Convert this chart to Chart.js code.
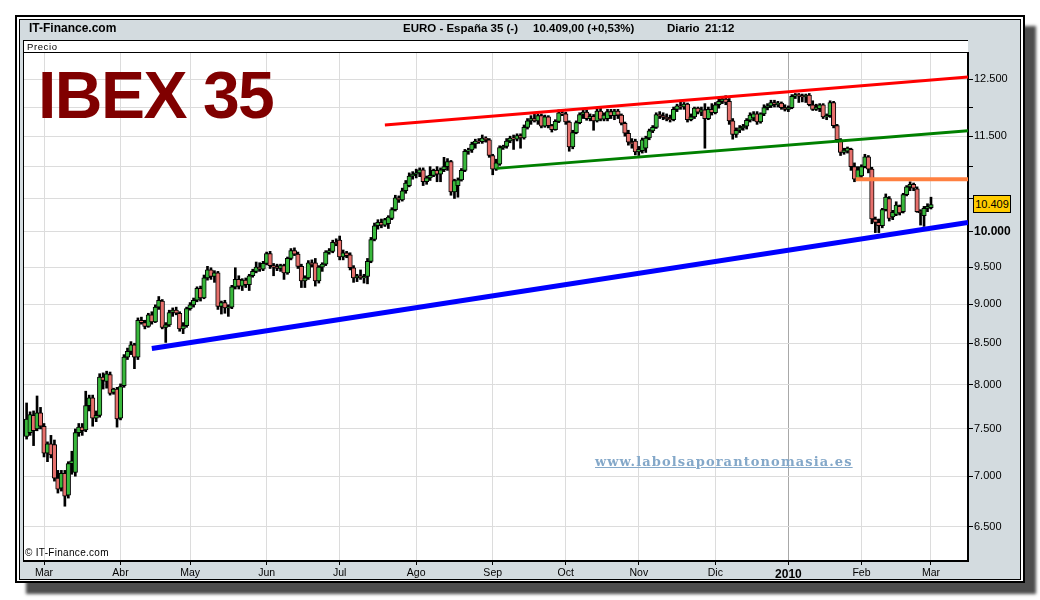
<!DOCTYPE html>
<html lang="es">
<head>
<meta charset="utf-8">
<title>IBEX 35</title>
<script src="https://cdn.jsdelivr.net/npm/chart.js@4.4.1/dist/chart.umd.min.js"></script>
<style>
  body { margin: 0; background: #fff; font-family: "Liberation Sans", Arial, sans-serif; }
  #wrap { position: relative; width: 1040px; height: 600px; overflow: hidden; }
  #outer { position: absolute; left: 15px; top: 15px; width: 1006px; height: 564px; border: 2px solid #000; background: #fff; box-shadow: 11px 11px 3px #4e4e4e; }
  #panel { position: absolute; left: 19px; top: 19px; width: 1000px; height: 559px; border: 1px solid #000; background: #d3dbdf; }
  #plotbox { position: absolute; left: 23px; top: 40px; width: 944px; height: 519px; border: 1px solid #000; border-right: 0; border-bottom: 0; background: #fff; }
  #strip { position: absolute; left: 23px; top: 52px; width: 946px; height: 1px; background: #000; }
  canvas { position: absolute; left: 0; top: 0; }
  .txt { position: absolute; white-space: pre; color: #000; }
  .hdr { font-weight: bold; font-size: 11.5px; top: 21px; line-height: 14px; }
  #price { position: absolute; left: 973px; width: 36px; height: 16px; line-height: 16px; background: #ffcc00; border: 1px solid #000; font-size: 11px; text-align: center; }
</style>
</head>
<body>
<div id="wrap">
  <div id="outer"></div>
  <div id="panel"></div>
  <div id="plotbox"></div>
  <div id="strip"></div>
  <canvas id="chart" width="1040" height="600"></canvas>

  <div class="txt" style="left:29px;top:21px;font-size:12px;font-weight:bold;line-height:14px;">IT-Finance.com</div>
  <div class="txt hdr" style="left:403px;">EURO - España 35 (-)</div>
  <div class="txt hdr" style="left:533px;">10.409,00 (+0,53%)</div>
  <div class="txt hdr" style="left:667px;">Diario</div>
  <div class="txt hdr" style="left:705px;">21:12</div>
  <div class="txt" style="left:27px;top:41px;font-size:9.5px;line-height:11px;letter-spacing:0.6px;">Precio</div>
  <div class="txt" style="left:38px;top:62px;font-size:66px;line-height:66px;font-weight:bold;color:#800000;letter-spacing:-1.5px;">IBEX 35</div>
  <div class="txt" style="left:595px;top:454px;font-family:'DejaVu Serif','Liberation Serif',serif;font-size:13px;line-height:16px;font-weight:bold;letter-spacing:1.1px;color:#84a8c9;text-decoration:underline;">www.labolsaporantonomasia.es</div>
  <div class="txt" style="left:25px;top:547px;font-size:10px;line-height:12px;letter-spacing:0.3px;">© IT-Finance.com</div>
  <div id="price"></div>
</div>

<script>
// trading days from late Feb 2009 to 1 Mar 2010 (index = trading day)
const opens = [
  7420, 7460, 7650, 7500, 7680, 7530, 7240, 7340, 7330, 6980,
  6880, 7030, 6810, 7130, 7040, 7460, 7520, 7490, 7760, 7850,
  7620, 7650, 8090, 8040, 8120, 7910, 7950, 7620, 7990, 8330,
  8400, 8480, 8330, 8790, 8760, 8710, 8860, 8770, 8960, 9040,
  8700, 8730, 8890, 8920, 8880, 8680, 8720, 8940, 8990, 9050,
  9210, 9080, 9350, 9460, 9370, 9420, 8970, 9020, 8950, 8960,
  9230, 9330, 9240, 9320, 9260, 9380, 9440, 9500, 9470, 9550,
  9690, 9520, 9500, 9480, 9520, 9420, 9620, 9730, 9680, 9510,
  9310, 9350, 9560, 9560, 9310, 9500, 9540, 9710, 9720, 9850,
  9880, 9640, 9700, 9670, 9490, 9350, 9380, 9350, 9370, 9580,
  9890, 10090, 10140, 10100, 10120, 10200, 10330, 10510, 10480, 10620,
  10700, 10850, 10880, 10900, 10950, 10760, 10820, 10860, 10940, 10880,
  10950, 11000, 11080, 10600, 10700, 10790, 10940, 11250, 11270, 11370,
  11420, 11410, 11470, 11440, 11180, 10960, 11040, 11310, 11330, 11420,
  11470, 11450, 11510, 11470, 11650, 11760, 11800, 11760, 11850, 11670,
  11830, 11680, 11610, 11750, 11900, 11880, 11740, 11320, 11560, 11730,
  11870, 11910, 11800, 11840, 11760, 11930, 11790, 11800, 11920, 11850,
  11930, 11860, 11720, 11550, 11400, 11420, 11240, 11260, 11300, 11470,
  11590, 11650, 11870, 11850, 11820, 11800, 11780, 11960, 12020, 12000,
  12050, 11780, 11830, 11980, 11910, 11950, 11800, 11960, 11900, 12040,
  12100, 12140, 12100, 11760, 11530, 11600, 11640, 11670, 11770, 11810,
  11880, 11740, 11880, 11990, 12020, 12080, 12040, 12070, 11990, 11960,
  11990, 12190, 12220, 12200, 12180, 12210, 12040, 11960, 11970, 12040,
  11830, 11850, 12080, 11680, 11440, 11230, 11250, 11280, 11000, 10800,
  10850, 11000, 11160, 10960, 10190, 10140, 10090, 10330, 10500, 10220,
  10260, 10380, 10300, 10560, 10680, 10720, 10650, 10310, 10240, 10350,
  10360
];
const highs = [
  7790, 7690, 7700, 7870, 7740, 7560, 7360, 7430, 7380, 7060,
  7060, 7060, 7150, 7260, 7500, 7560, 7560, 7925, 7880, 7880,
  7700, 8130, 8140, 8160, 8150, 7960, 7970, 8010, 8360, 8440,
  8520, 8500, 8820, 8830, 8790, 8880, 8900, 8990, 9100, 9060,
  8760, 8920, 8950, 8960, 8900, 8760, 8960, 9020, 9080, 9230,
  9240, 9390, 9510, 9490, 9450, 9440, 9040, 9050, 8990, 9250,
  9490, 9380, 9340, 9350, 9400, 9470, 9570, 9560, 9580, 9710,
  9720, 9550, 9540, 9540, 9540, 9640, 9760, 9770, 9710, 9540,
  9380, 9590, 9600, 9620, 9520, 9560, 9730, 9760, 9880, 9900,
  9940, 9740, 9720, 9700, 9520, 9400, 9460, 9400, 9620, 9920,
  10130, 10180, 10190, 10200, 10240, 10360, 10550, 10540, 10660, 10780,
  10900, 10920, 10960, 10980, 10980, 10850, 11000, 10960, 11000, 10980,
  11150, 11130, 11100, 10800, 10820, 10970, 11280, 11300, 11400, 11450,
  11460, 11520, 11490, 11460, 11200, 11120, 11340, 11350, 11460, 11500,
  11520, 11540, 11540, 11690, 11800, 11850, 11880, 11880, 11880, 11860,
  11850, 11700, 11780, 11950, 11940, 11910, 11760, 11600, 11760, 11900,
  11950, 11950, 11880, 11870, 11960, 11980, 11900, 11960, 11960, 11960,
  11960, 11880, 11740, 11600, 11460, 11450, 11330, 11470, 11500, 11620,
  11680, 11900, 11920, 11900, 11880, 11860, 12000, 12050, 12120, 12080,
  12070, 11880, 12000, 12000, 12000, 12060, 12000, 12060, 12080, 12140,
  12180, 12200, 12150, 11800, 11640, 11680, 11700, 11800, 11900, 11920,
  11920, 11900, 12040, 12060, 12120, 12120, 12100, 12090, 12040, 12020,
  12220, 12240, 12240, 12230, 12230, 12240, 12110, 12050, 12060, 12060,
  11880, 12110, 12100, 11700, 11460, 11300, 11320, 11300, 11060, 11000,
  11030, 11200, 11180, 10990, 10220, 10190, 10350, 10570, 10530, 10320,
  10450, 10400, 10580, 10700, 10760, 10740, 10680, 10330, 10380, 10420,
  10520
];
const lows = [
  7390, 7430, 7320, 7480, 7500, 7200, 7150, 7190, 6950, 6830,
  6850, 6700, 6780, 7020, 7000, 7420, 7430, 7470, 7700, 7530,
  7580, 7630, 7950, 7960, 7880, 7890, 7520, 7600, 7970, 8300,
  8360, 8190, 8300, 8740, 8680, 8700, 8740, 8760, 8930, 8680,
  8510, 8710, 8840, 8860, 8650, 8620, 8700, 8920, 8960, 9030,
  9040, 9070, 9320, 9330, 9290, 8930, 8870, 8880, 8840, 8940,
  9200, 9200, 9180, 9220, 9180, 9360, 9420, 9440, 9450, 9530,
  9480, 9380, 9450, 9440, 9330, 9400, 9600, 9660, 9480, 9220,
  9220, 9330, 9500, 9240, 9280, 9440, 9520, 9680, 9700, 9800,
  9600, 9600, 9630, 9460, 9290, 9300, 9330, 9280, 9270, 9560,
  9870, 10040, 10060, 10080, 10050, 10180, 10310, 10440, 10460, 10580,
  10680, 10800, 10820, 10840, 10700, 10720, 10780, 10840, 10760, 10760,
  10920, 10940, 10550, 10500, 10520, 10770, 10920, 11200, 11230, 11300,
  11380, 11380, 11400, 11150, 10870, 10940, 11020, 11280, 11300, 11390,
  11280, 11420, 11300, 11450, 11620, 11700, 11740, 11700, 11640, 11650,
  11640, 11570, 11600, 11730, 11850, 11700, 11250, 11290, 11540, 11710,
  11800, 11770, 11760, 11600, 11740, 11760, 11760, 11760, 11800, 11780,
  11800, 11690, 11500, 11350, 11300, 11190, 11180, 11220, 11230, 11440,
  11560, 11630, 11800, 11780, 11760, 11740, 11760, 11920, 11960, 11960,
  11740, 11760, 11800, 11880, 11850, 11300, 11780, 11860, 11880, 11980,
  12060, 12040, 11700, 11450, 11480, 11560, 11600, 11620, 11740, 11760,
  11700, 11720, 11850, 11950, 11990, 12000, 12000, 11960, 11930, 11920,
  11970, 12150, 12080, 12090, 12080, 12020, 11940, 11940, 11920, 11800,
  11780, 11820, 11640, 11400, 11180, 11200, 11220, 10940, 10760, 10780,
  10820, 10980, 10900, 10120, 9990, 9990, 10060, 10310, 10160, 10180,
  10240, 10250, 10280, 10540, 10620, 10620, 10290, 10100, 10080, 10300,
  10340
];
const closes = [
  7610, 7660, 7480, 7680, 7530, 7240, 7340, 7220, 6980, 6870,
  7030, 6800, 7130, 7160, 7460, 7520, 7480, 7760, 7850, 7620,
  7650, 8090, 8050, 8130, 7900, 7950, 7610, 7980, 8330, 8400,
  8480, 8330, 8790, 8760, 8710, 8860, 8770, 8960, 9050, 8700,
  8730, 8890, 8920, 8880, 8680, 8720, 8940, 8990, 9050, 9210,
  9080, 9350, 9460, 9370, 9420, 8970, 9020, 8950, 8960, 9230,
  9330, 9240, 9320, 9260, 9380, 9440, 9500, 9470, 9550, 9690,
  9520, 9500, 9480, 9520, 9420, 9620, 9730, 9680, 9510, 9310,
  9350, 9560, 9530, 9310, 9500, 9540, 9710, 9730, 9850, 9830,
  9640, 9700, 9660, 9490, 9350, 9380, 9350, 9370, 9580, 9890,
  10090, 10140, 10100, 10180, 10220, 10330, 10510, 10480, 10620, 10740,
  10850, 10880, 10900, 10950, 10760, 10820, 10860, 10940, 10880, 10950,
  11000, 11080, 10600, 10780, 10790, 10940, 11250, 11270, 11370, 11420,
  11410, 11470, 11440, 11180, 10960, 11060, 11310, 11330, 11420, 11470,
  11450, 11510, 11470, 11650, 11760, 11800, 11760, 11850, 11670, 11830,
  11680, 11610, 11750, 11900, 11880, 11740, 11320, 11560, 11730, 11870,
  11910, 11800, 11840, 11760, 11930, 11790, 11860, 11920, 11850, 11930,
  11860, 11720, 11550, 11400, 11370, 11240, 11280, 11440, 11470, 11590,
  11650, 11870, 11850, 11820, 11800, 11780, 11960, 12020, 12000, 12050,
  11780, 11830, 11980, 11910, 11950, 11800, 11960, 11900, 12040, 12100,
  12140, 12080, 11760, 11530, 11600, 11640, 11670, 11770, 11860, 11880,
  11740, 11880, 11990, 12020, 12080, 12040, 12070, 11990, 11960, 11990,
  12190, 12220, 12200, 12180, 12210, 12040, 11960, 12000, 12040, 11830,
  11850, 12080, 11680, 11440, 11230, 11270, 11300, 11000, 10800, 10950,
  11000, 11160, 10960, 10190, 10140, 10090, 10330, 10520, 10200, 10290,
  10400, 10280, 10560, 10680, 10720, 10660, 10300, 10280, 10350, 10380,
  10409
];

// month ticks on the time axis (trading-day index of the first session)
const monthNames = ["Mar", "Abr", "May", "Jun", "Jul", "Ago", "Sep", "Oct", "Nov", "Dic", "2010", "Feb", "Mar"];
const monthStart = [5, 27, 47, 69, 90, 112, 134, 155, 176, 198, 219, 240, 260];
const yearIndex = 219;

// price axis
const yTicks = [6500, 7000, 7500, 8000, 8500, 9000, 9500, 10000, 10500, 11000, 11500, 12000, 12500];
const yLabelled = [6500, 7000, 7500, 8000, 8500, 9000, 9500, 10000, 11500, 12500];

// trend lines drawn on the chart (index, price)
const redX = [103, 270.64],    redY = [11690, 12540];
const greenX = [135.15, 270.64], greenY = [10972, 11593];
const blueX = [36, 270.64],    blueY = [8434, 10140];
const orangeX = [238.4, 270.64], orangeY = [10798, 10798];

const UP = "#39b83c";
const DOWN = "#e6706c";

function fmt(v) {
  return String(Math.round(v)).replace(/\B(?=(\d{3})+(?!\d))/g, ".");
}
function pts(xs, ys) {
  return xs.map((x, k) => ({ x: x, y: ys[k] }));
}

const wicks = closes.map((c, i) => ({ x: i, y: [lows[i], highs[i]] }));
const bodies = closes.map((c, i) => ({ x: i, y: [opens[i], c] }));
const bodyColors = closes.map((c, i) => c >= opens[i] ? UP : DOWN);

Chart.defaults.font.family = '"Liberation Sans", Arial, sans-serif';
Chart.defaults.color = "#000";

const lastPrice = closes[closes.length - 1];
document.getElementById("price").textContent = fmt(lastPrice);

const priceTag = {
  id: "priceTag",
  afterDraw(chart) {
    const y = chart.scales.y.getPixelForValue(lastPrice);
    document.getElementById("price").style.top = (y - 9) + "px";
  }
};

function trend(data, color, width) {
  return {
    type: "line",
    data: data,
    borderColor: color,
    borderWidth: width,
    borderCapStyle: "butt",
    pointRadius: 0,
    fill: false,
    order: 0
  };
}

new Chart(document.getElementById("chart"), {
  type: "bar",
  data: {
    datasets: [
      trend(pts(redX, redY), "#ff0000", 3),
      trend(pts(greenX, greenY), "#008000", 3),
      trend(pts(blueX, blueY), "#0000ff", 5),
      trend(pts(orangeX, orangeY), "#ff8040", 4),
      {
        data: bodies,
        backgroundColor: bodyColors,
        borderColor: "#000",
        borderWidth: 1,
        borderSkipped: false,
        barThickness: 4.5,
        grouped: false,
        order: 1
      },
      {
        data: wicks,
        backgroundColor: "#000",
        borderWidth: 0,
        barThickness: 2,
        grouped: false,
        order: 2
      }
    ]
  },
  options: {
    responsive: false,
    animation: false,
    events: [],
    layout: { padding: { left: 24, top: 53, right: 20, bottom: 20 } },
    plugins: {
      legend: { display: false },
      tooltip: { enabled: false }
    },
    scales: {
      x: {
        type: "linear",
        min: -0.75,
        max: 270.64,
        offset: false,
        afterBuildTicks: (s) => { s.ticks = monthStart.map(v => ({ value: v })); },
        afterFit: (s) => { s.height = 19; },
        grid: {
          offset: false,
          color: (ctx) => ctx.tick && ctx.tick.value === yearIndex ? "#a8a8a8" : "#dcdcdc",
          lineWidth: 1,
          tickColor: "#000",
          tickLength: 4
        },
        border: { color: "#000", width: 2 },
        ticks: {
          autoSkip: false,
          maxRotation: 0,
          padding: 2,
          color: "#000",
          font: (ctx) => ctx.tick && ctx.tick.value === yearIndex ? { size: 12, weight: "bold" } : { size: 10.5 },
          callback: (v) => {
            const k = monthStart.indexOf(v);
            return k >= 0 ? monthNames[k] : "";
          }
        }
      },
      y: {
        type: "logarithmic",
        position: "right",
        min: 6185,
        max: 12985,
        afterBuildTicks: (s) => { s.ticks = yTicks.map(v => ({ value: v })); },
        afterFit: (s) => { s.width = 52; },
        grid: {
          color: "#dcdcdc",
          lineWidth: 1,
          tickColor: "#000",
          tickLength: 5
        },
        border: { color: "#000", width: 2 },
        ticks: {
          autoSkip: false,
          padding: 1,
          color: "#000",
          font: (ctx) => ctx.tick && ctx.tick.value === 10000 ? { size: 12, weight: "bold" } : { size: 11 },
          callback: (v) => yLabelled.includes(v) ? fmt(v) : ""
        }
      }
    }
  },
  plugins: [priceTag]
});
</script>
</body>
</html>
